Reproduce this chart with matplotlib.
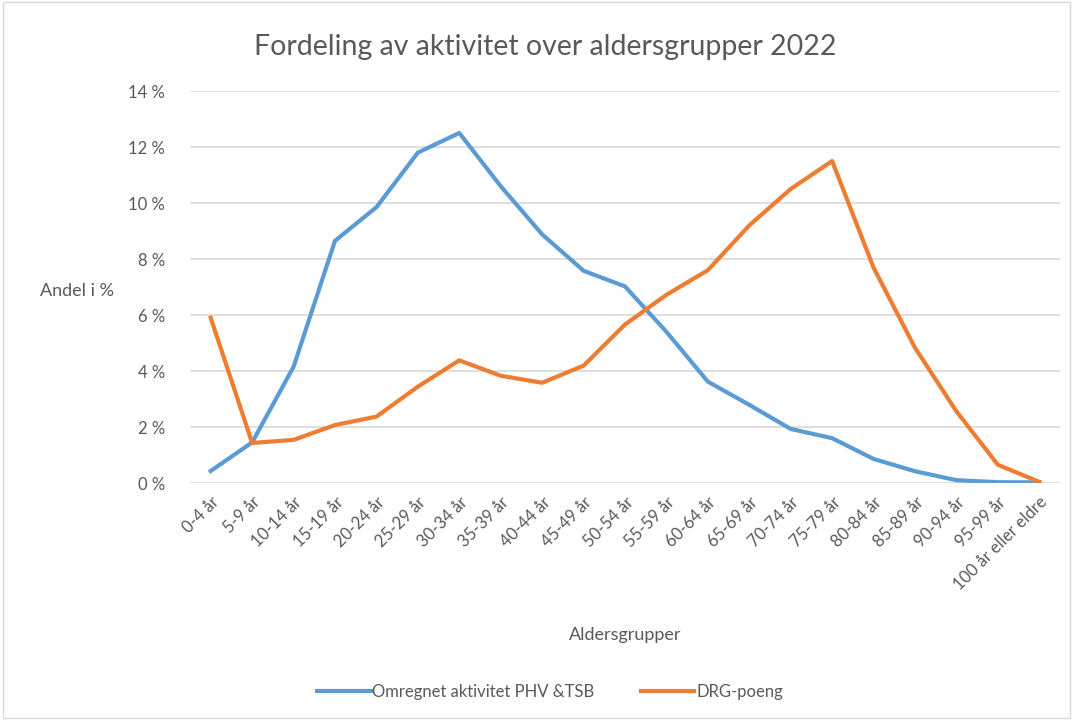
import matplotlib.pyplot as plt
from matplotlib.patches import Rectangle

plt.rcParams['font.family'] = ['Lato', 'DejaVu Sans']

age_groups = ['0-4 år', '5-9 år', '10-14 år', '15-19 år', '20-24 år', '25-29 år',
              '30-34 år', '35-39 år', '40-44 år', '45-49 år', '50-54 år', '55-59 år',
              '60-64 år', '65-69 år', '70-74 år', '75-79 år', '80-84 år', '85-89 år',
              '90-94 år', '95-99 år', '100 år eller eldre']
phv_tsb = [0.43, 1.45, 4.15, 8.65, 9.85, 11.8, 12.5, 10.6, 8.88, 7.58, 7.02, 5.4,
           3.62, 2.79, 1.93, 1.6, 0.86, 0.42, 0.1, 0.03, 0.02]
drg = [5.9, 1.43, 1.54, 2.07, 2.37, 3.44, 4.38, 3.83, 3.58, 4.19, 5.66, 6.72,
       7.6, 9.2, 10.5, 11.5, 7.69, 4.83, 2.56, 0.65, 0.04]
y_ticks = [0, 2, 4, 6, 8, 10, 12, 14]

text_col = '#595959'
fig = plt.figure(figsize=(10.73, 7.2), dpi=100)
fig.patches.append(Rectangle((0.003, 0.003), 0.994, 0.994, transform=fig.transFigure,
                             fill=False, edgecolor='#D9D9D9', linewidth=1))
ax = fig.add_axes([190 / 1073, 1 - 483 / 720, 870 / 1073, 392 / 720])

x = range(len(age_groups))
ax.plot(x, phv_tsb, color='#5B9BD5', linewidth=3, label='Omregnet aktivitet PHV &TSB',
        solid_joinstyle='round', zorder=3)
ax.plot(x, drg, color='#ED7D31', linewidth=3, label='DRG-poeng',
        solid_joinstyle='round', zorder=3)

ax.set_xlim(-0.5, len(age_groups) - 0.5)
ax.set_ylim(0, 14)
ax.set_yticks(y_ticks)
ax.set_yticklabels([f'{v} %' for v in y_ticks], color=text_col, fontsize=12)
ax.set_xticks(list(x))
ax.set_xticklabels(age_groups, rotation=45, ha='right', rotation_mode='anchor',
                   color=text_col, fontsize=12)
ax.tick_params(length=0, pad=18)
ax.tick_params(axis='x', pad=8)
ax.grid(axis='y', color='#D9D9D9', linewidth=1.2)
ax.set_axisbelow(True)
for s in ax.spines.values():
    s.set_visible(False)

fig.text(545 / 1073, 1 - 47 / 720, 'Fordeling av aktivitet over aldersgrupper 2022',
         ha='center', va='center', fontsize=20.5, color=text_col)
fig.text(40 / 1073, 1 - 291 / 720, 'Andel i %', ha='left', va='center',
         fontsize=13, color=text_col)
fig.text(625 / 1073, 1 - 635 / 720, 'Aldersgrupper', ha='center', va='center',
         fontsize=13, color=text_col)
fig.legend(loc='center', bbox_to_anchor=(550 / 1073, 1 - 692 / 720), ncol=2,
           frameon=False, fontsize=12, labelcolor=text_col, handlelength=3.2,
           handletextpad=0.1, columnspacing=2.8)

fig.savefig('out.png', dpi=100)
